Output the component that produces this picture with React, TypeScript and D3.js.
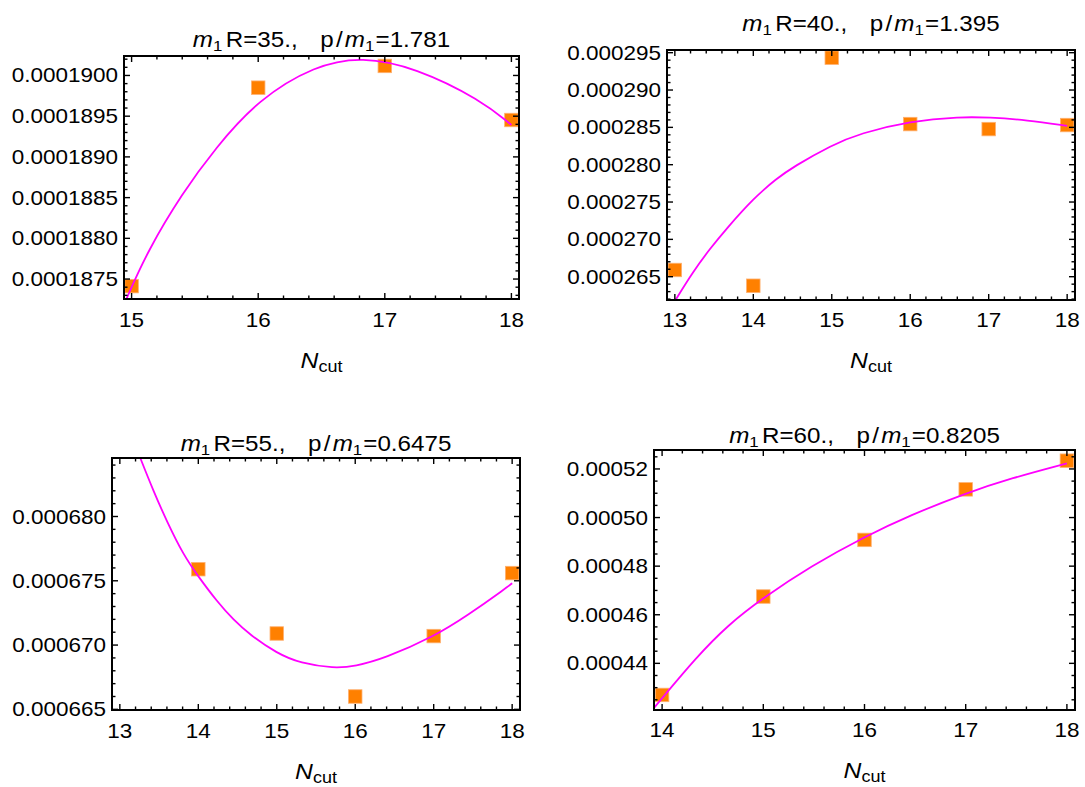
import React from 'react';
import * as d3 from 'd3';

// ---------- data ----------
const titleR = ['35.', '40.', '55.', '60.'];
const titleP = ['1.781', '1.395', '0.6475', '0.8205'];

const p1N = [15, 16, 17, 18];
const p1Val = [0.000187413, 0.00018985, 0.000190117, 0.000189453];
const p1FitN = [14.94, 14.96, 15.13, 15.4, 15.66, 16.0, 16.45, 16.82, 17.24, 17.76, 18.0];
const p1FitVal = [0.00018718, 0.000187262, 0.000187855, 0.000188552, 0.000189105, 0.000189705, 0.000190125, 0.000190232, 0.000190098, 0.000189699, 0.000189392];
const p1YTicks = [0.0001875, 0.000188, 0.0001885, 0.000189, 0.0001895, 0.00019];
const p1YLabels = ['0.0001875', '0.0001880', '0.0001885', '0.0001890', '0.0001895', '0.0001900'];
const p1XTicks = [15, 16, 17, 18];

const p2N = [13, 14, 15, 16, 17, 18];
const p2Val = [0.0002659, 0.00026379, 0.00029433, 0.00028544, 0.00028477, 0.00028531];
const p2FitN = [12.98, 13.02, 13.23, 13.45, 13.66, 14.0, 14.3, 14.51, 15.0, 15.36, 16.0, 16.64, 17.0, 17.49, 18.0];
const p2FitVal = [0.0002614, 0.00026208, 0.00026564, 0.00026878, 0.00027146, 0.00027548, 0.00027816, 0.00027972, 0.00028263, 0.0002842, 0.00028584, 0.00028642, 0.00028634, 0.00028598, 0.00028521];
const p2YTicks = [0.000265, 0.00027, 0.000275, 0.00028, 0.000285, 0.00029, 0.000295];
const p2YLabels = ['0.000265', '0.000270', '0.000275', '0.000280', '0.000285', '0.000290', '0.000295'];
const p2XTicks = [13, 14, 15, 16, 17, 18];

const p3N = [14, 15, 16, 17, 18];
const p3Val = [0.0006759, 0.0006709, 0.000666, 0.0006707, 0.0006756];
const p3FitN = [13.2, 13.26, 13.43, 13.6, 13.81, 14.0, 14.24, 14.45, 14.66, 15.0, 15.3, 15.73, 16.0, 16.37, 17.0, 17.43, 17.92, 18.0];
const p3FitVal = [0.0006855, 0.00068455, 0.00068195, 0.00067961, 0.00067702, 0.00067533, 0.00067338, 0.00067195, 0.00067079, 0.00066936, 0.00066858, 0.00066819, 0.00066835, 0.00066895, 0.00067065, 0.0006723, 0.00067442, 0.00067481];
const p3YTicks = [0.000665, 0.00067, 0.000675, 0.00068];
const p3YLabels = ['0.000665', '0.000670', '0.000675', '0.000680'];
const p3XTicks = [13, 14, 15, 16, 17, 18];

const p4N = [14, 15, 16, 17, 18];
const p4Val = [0.000427, 0.0004675, 0.0004908, 0.0005116, 0.0005234];
const p4FitN = [13.9, 13.93, 14.0, 14.33, 14.65, 15.0, 15.47, 16.0, 16.46, 17.0, 17.45, 18.0];
const p4FitVal = [0.0004207, 0.0004222, 0.0004256, 0.0004421, 0.0004558, 0.000467, 0.00048, 0.0004921, 0.0005011, 0.00051, 0.0005162, 0.0005223];
const p4YTicks = [0.00044, 0.00046, 0.00048, 0.0005, 0.00052];
const p4YLabels = ['0.00044', '0.00046', '0.00048', '0.00050', '0.00052'];
const p4XTicks = [14, 15, 16, 17, 18];

// ---------- layout / style ----------
const FONT = '"Liberation Sans", Arial, Helvetica, sans-serif';
const SX = 1.125;
const ORANGE = '#ff8000';
const MAGENTA = '#ff00ff';

type PanelDef = {
  id: string;
  left: number; right: number; top: number; bottom: number;
  xDomain: [number, number]; yDomain: [number, number];
  xMinorStep: number; yMinorStep: number;
  n: number[]; val: number[]; fitN: number[]; fitVal: number[];
  yTicks: number[]; yLabels: string[]; xTicks: number[];
  r: string; p: string;
  titleY: number; tickY: number; nLabelY: number;
};

const panels: PanelDef[] = [
  {
    id: 'a', left: 124, right: 519, top: 56, bottom: 299,
    xDomain: [14.94, 18.06], yDomain: [0.000187255, 0.000190239],
    xMinorStep: 0.2, yMinorStep: 0.0000001,
    n: p1N, val: p1Val, fitN: p1FitN, fitVal: p1FitVal,
    yTicks: p1YTicks, yLabels: p1YLabels, xTicks: p1XTicks,
    r: titleR[0], p: titleP[0], titleY: 47, tickY: 327, nLabelY: 368,
  },
  {
    id: 'b', left: 667, right: 1075, top: 50, bottom: 300,
    xDomain: [12.9, 18.1], yDomain: [0.00026188, 0.00029536],
    xMinorStep: 0.2, yMinorStep: 0.000001,
    n: p2N, val: p2Val, fitN: p2FitN, fitVal: p2FitVal,
    yTicks: p2YTicks, yLabels: p2YLabels, xTicks: p2XTicks,
    r: titleR[1], p: titleP[1], titleY: 31, tickY: 327, nLabelY: 368,
  },
  {
    id: 'c', left: 112, right: 520, top: 458, bottom: 710,
    xDomain: [12.9, 18.1], yDomain: [0.00066495, 0.00068455],
    xMinorStep: 0.2, yMinorStep: 0.000001,
    n: p3N, val: p3Val, fitN: p3FitN, fitVal: p3FitVal,
    yTicks: p3YTicks, yLabels: p3YLabels, xTicks: p3XTicks,
    r: titleR[2], p: titleP[2], titleY: 451, tickY: 738, nLabelY: 779,
  },
  {
    id: 'd', left: 654, right: 1075, top: 450, bottom: 710,
    xDomain: [13.92, 18.08], yDomain: [0.0004208, 0.0005278],
    xMinorStep: 0.2, yMinorStep: 0.000005,
    n: p4N, val: p4Val, fitN: p4FitN, fitVal: p4FitVal,
    yTicks: p4YTicks, yLabels: p4YLabels, xTicks: p4XTicks,
    r: titleR[3], p: titleP[3], titleY: 443, tickY: 737, nLabelY: 778,
  },
];

function SText(props: { x: number; y: number; anchor?: string; size: number; children: React.ReactNode }) {
  const { x, y, anchor = 'middle', size, children } = props;
  return (
    <g transform={`translate(${x},${y}) scale(${SX},1)`}>
      <text textAnchor={anchor as any} fontSize={size} fontFamily={FONT} fill="#000">
        {children}
      </text>
    </g>
  );
}

function Panel({ d }: { d: PanelDef }) {
  const x = d3.scaleLinear().domain(d.xDomain).range([d.left, d.right]);
  const y = d3.scaleLinear().domain(d.yDomain).range([d.bottom, d.top]);
  const line = d3
    .line<number>()
    .x((_, i) => x(d.fitN[i]))
    .y((v) => y(v))
    .curve(d3.curveBasis);
  const fitPath = line(d.fitVal) || '';

  const xMinor = d3
    .range(Math.ceil(d.xDomain[0] / d.xMinorStep) * d.xMinorStep, d.xDomain[1], d.xMinorStep)
    .filter((v) => !d.xTicks.some((t) => Math.abs(t - v) < 1e-6) && v > d.xDomain[0] && v < d.xDomain[1]);
  const yMinor = d3
    .range(Math.ceil(d.yDomain[0] / d.yMinorStep) * d.yMinorStep, d.yDomain[1], d.yMinorStep)
    .filter((v) => !d.yTicks.some((t) => Math.abs(t - v) < d.yMinorStep * 0.01) && v > d.yDomain[0] && v < d.yDomain[1]);

  const MAJ = 6;
  const MIN = 3.5;
  const sq = 13.5;
  const cx = (d.left + d.right) / 2;

  return (
    <g>
      <defs>
        <clipPath id={`clip-${d.id}`}>
          <rect x={d.left} y={d.top} width={d.right - d.left} height={d.bottom - d.top} />
        </clipPath>
      </defs>
      {/* data squares */}
      <g>
        {d.n.map((n, i) => (
          <rect
            key={i}
            x={x(n) - sq / 2}
            y={y(d.val[i]) - sq / 2}
            width={sq}
            height={sq}
            fill={ORANGE}
            stroke="#ffb070"
            strokeWidth={0.8}
          />
        ))}
      </g>
      {/* fitted curve */}
      <path d={fitPath} fill="none" stroke={MAGENTA} strokeWidth={1.8} clipPath={`url(#clip-${d.id})`} />
      {/* ticks */}
      <g stroke="#000" strokeWidth={1.4}>
        {d.xTicks.map((t) => (
          <g key={'xt' + t}>
            <line x1={x(t)} x2={x(t)} y1={d.bottom} y2={d.bottom - MAJ} />
            <line x1={x(t)} x2={x(t)} y1={d.top} y2={d.top + MAJ} />
          </g>
        ))}
        {xMinor.map((t, i) => (
          <g key={'xm' + i}>
            <line x1={x(t)} x2={x(t)} y1={d.bottom} y2={d.bottom - MIN} />
            <line x1={x(t)} x2={x(t)} y1={d.top} y2={d.top + MIN} />
          </g>
        ))}
        {d.yTicks.map((t) => (
          <g key={'yt' + t}>
            <line x1={d.left} x2={d.left + MAJ} y1={y(t)} y2={y(t)} />
            <line x1={d.right} x2={d.right - MAJ} y1={y(t)} y2={y(t)} />
          </g>
        ))}
        {yMinor.map((t, i) => (
          <g key={'ym' + i}>
            <line x1={d.left} x2={d.left + MIN} y1={y(t)} y2={y(t)} />
            <line x1={d.right} x2={d.right - MIN} y1={y(t)} y2={y(t)} />
          </g>
        ))}
      </g>
      {/* frame */}
      <rect
        x={d.left}
        y={d.top}
        width={d.right - d.left}
        height={d.bottom - d.top}
        fill="none"
        stroke="#000"
        strokeWidth={2}
      />
      {/* tick labels */}
      {d.xTicks.map((t) => (
        <SText key={'xl' + t} x={x(t)} y={d.tickY} size={20}>
          {String(t)}
        </SText>
      ))}
      {d.yTicks.map((t, i) => (
        <SText key={'yl' + t} x={d.left - 6} y={y(t) + 7} anchor="end" size={20}>
          {d.yLabels[i]}
        </SText>
      ))}
      {/* title */}
      <SText x={cx} y={d.titleY} size={21.5}>
        <tspan fontStyle="italic">m</tspan>
        <tspan fontSize={15} dy={4}>1</tspan>
        <tspan dy={-4} dx={3}>{'R=' + d.r + ','}</tspan>
        <tspan dx={20}>p</tspan>
        <tspan dx={2}>/</tspan>
        <tspan dx={2} fontStyle="italic">m</tspan>
        <tspan fontSize={15} dy={4}>1</tspan>
        <tspan dy={-4} dx={1}>{'=' + d.p}</tspan>
      </SText>
      {/* x axis label */}
      <SText x={cx} y={d.nLabelY} size={22}>
        <tspan fontStyle="italic">N</tspan>
        <tspan fontSize={16} dy={4}>cut</tspan>
      </SText>
    </g>
  );
}

export default function App() {
  return (
    <svg
      width={1085}
      height={787}
      viewBox="0 0 1085 787"
      style={{ position: 'absolute', left: 0, top: 0, background: '#fff' }}
    >
      <rect x={0} y={0} width={1085} height={787} fill="#fff" />
      {panels.map((d) => (
        <Panel key={d.id} d={d} />
      ))}
    </svg>
  );
}
